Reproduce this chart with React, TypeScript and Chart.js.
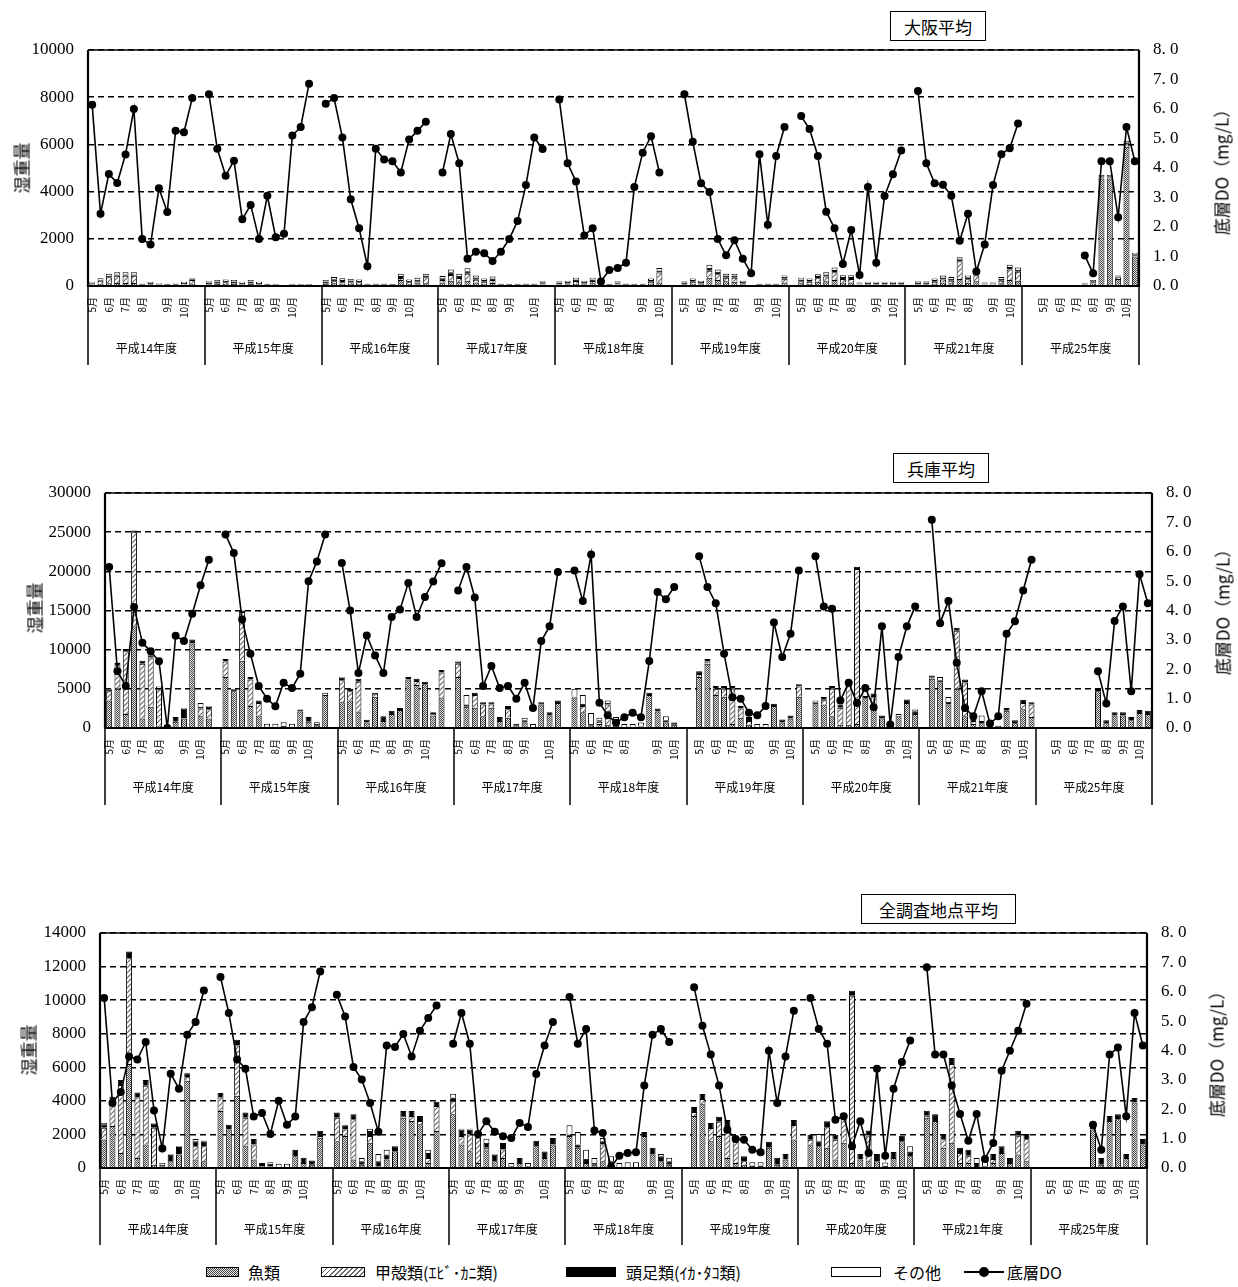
import React, { useEffect, useRef } from 'react';
import { Chart, registerables } from 'chart.js';

Chart.register(...registerables);

const years = ['平成14年度', '平成15年度', '平成16年度', '平成17年度', '平成18年度', '平成19年度', '平成20年度', '平成21年度', '平成25年度'];
const months = ['5月', '6月', '7月', '8月', '9月', '10月'];
// slot (within 14-slot year group) carrying each month label
const monthSlots = [
  [0, 2, 4, 6, 9, 11],
  [0, 2, 4, 6, 8, 10],
  [0, 2, 4, 6, 8, 10],
  [0, 2, 4, 6, 8, 11],
  [0, 2, 4, 6, 10, 12],
  [1, 3, 5, 7, 10, 12],
  [1, 3, 5, 7, 10, 12],
  [1, 3, 5, 7, 10, 12],
  [2, 4, 6, 8, 10, 12],
];
// first slot used by the survey data in each year group
const slotStart = [0, 0, 0, 0, 0, 1, 1, 1, 7];
const SLOTS = 14;

// ---------- 大阪平均 ----------
const osakaDO = [
  [6.14, 2.45, 3.80, 3.49, 4.46, 6.00, 1.59, 1.41, 3.31, 2.51, 5.26, 5.21, 6.37],
  [6.50, 4.65, 3.74, 4.25, 2.26, 2.75, 1.59, 3.06, 1.65, 1.77, 5.10, 5.39, 6.86],
  [6.18, 6.37, 5.03, 2.94, 1.96, 0.67, 4.65, 4.29, 4.23, 3.85, 4.97, 5.26, 5.57],
  [3.85, 5.15, 4.16, 0.92, 1.16, 1.11, 0.85, 1.16, 1.59, 2.20, 3.42, 5.03, 4.64],
  [6.32, 4.16, 3.54, 1.71, 1.96, 0.15, 0.54, 0.61, 0.79, 3.36, 4.52, 5.08, 3.85],
  [6.50, 4.89, 3.48, 3.19, 1.59, 1.04, 1.55, 0.92, 0.43, 4.47, 2.08, 4.41, 5.39],
  [5.76, 5.32, 4.41, 2.52, 1.96, 0.75, 1.90, 0.37, 3.36, 0.79, 3.05, 3.79, 4.59],
  [6.61, 4.16, 3.48, 3.43, 3.06, 1.53, 2.45, 0.49, 1.41, 3.42, 4.47, 4.67, 5.51],
  [1.03, 0.43, 4.23, 4.23, 2.33, 5.39, 4.23],
];
const osakaFish = [
  [60, 100, 120, 130, 130, 130, 30, 50, 40, 30, 30, 50, 90],
  [60, 80, 90, 80, 60, 80, 60, 30, 20, 0, 20, 20, 20],
  [80, 120, 100, 90, 90, 30, 30, 30, 30, 250, 90, 120, 120],
  [150, 220, 160, 220, 150, 100, 130, 30, 30, 30, 30, 30, 60],
  [60, 70, 100, 70, 120, 70, 30, 60, 30, 30, 30, 100, 150],
  [60, 100, 70, 350, 250, 200, 180, 70, 0, 30, 30, 30, 150],
  [120, 100, 180, 200, 250, 150, 150, 50, 60, 60, 60, 60, 60],
  [60, 60, 100, 150, 120, 300, 140, 200, 50, 50, 120, 250, 220],
  [60, 110, 4550, 4550, 300, 5900, 1250],
];
const osakaCrust = [
  [40, 120, 250, 300, 300, 300, 10, 30, 20, 10, 20, 40, 160],
  [30, 40, 50, 40, 20, 40, 20, 10, 10, 0, 10, 10, 10],
  [40, 80, 60, 60, 50, 10, 10, 10, 10, 90, 50, 80, 250],
  [100, 250, 180, 300, 120, 80, 120, 10, 10, 10, 10, 10, 60],
  [30, 40, 110, 40, 90, 40, 10, 40, 10, 10, 10, 80, 420],
  [30, 80, 40, 300, 250, 150, 170, 40, 0, 10, 10, 10, 160],
  [80, 80, 150, 200, 330, 150, 150, 20, 30, 30, 30, 30, 30],
  [30, 30, 80, 130, 100, 750, 150, 250, 20, 20, 100, 450, 380],
  [10, 30, 50, 50, 50, 100, 50],
];
const osakaCeph = [
  [40, 50, 60, 60, 60, 60, 30, 50, 30, 30, 30, 40, 40],
  [60, 70, 70, 70, 50, 70, 50, 30, 25, 0, 25, 25, 25],
  [70, 90, 90, 80, 70, 30, 30, 30, 30, 80, 70, 70, 70],
  [80, 110, 90, 110, 90, 70, 70, 30, 30, 30, 30, 30, 40],
  [60, 60, 70, 60, 70, 60, 30, 50, 30, 30, 30, 70, 90],
  [60, 70, 60, 120, 100, 90, 90, 60, 0, 30, 30, 30, 70],
  [80, 70, 90, 90, 100, 80, 80, 40, 50, 50, 50, 50, 50],
  [60, 60, 70, 80, 80, 80, 80, 70, 40, 40, 80, 100, 90],
  [40, 60, 50, 50, 50, 80, 50],
];
const osakaOther = [
  [40, 60, 90, 90, 90, 90, 30, 40, 30, 30, 30, 40, 40],
  [50, 60, 70, 60, 50, 60, 50, 30, 25, 0, 25, 25, 25],
  [60, 90, 80, 70, 70, 30, 30, 30, 30, 100, 70, 80, 80],
  [90, 120, 90, 120, 90, 70, 80, 30, 30, 30, 30, 30, 40],
  [50, 50, 70, 50, 70, 50, 30, 50, 30, 30, 30, 70, 100],
  [50, 70, 50, 130, 100, 80, 80, 50, 0, 30, 30, 30, 70],
  [70, 70, 80, 90, 100, 80, 80, 40, 40, 40, 40, 40, 40],
  [50, 50, 70, 90, 80, 90, 80, 80, 40, 40, 80, 100, 90],
  [30, 50, 50, 50, 50, 70, 50],
];

// ---------- 兵庫平均 ----------
const hyogoDO = [
  [5.48, 1.93, 1.43, 4.12, 2.90, 2.61, 2.27, 0.0, 3.14, 2.96, 3.89, 4.86, 5.73],
  [6.59, 5.96, 3.69, 2.53, 1.43, 1.00, 0.74, 1.54, 1.36, 1.85, 5.00, 5.67, 6.59],
  [5.62, 4.00, 1.87, 3.15, 2.47, 1.87, 3.78, 4.03, 4.94, 3.78, 4.46, 4.99, 5.61],
  [4.68, 5.48, 4.44, 1.43, 2.11, 1.36, 1.43, 1.00, 1.54, 0.68, 2.96, 3.46, 5.31],
  [5.36, 4.32, 5.91, 0.86, 0.43, 0.18, 0.37, 0.52, 0.37, 2.28, 4.63, 4.38, 4.80],
  [5.85, 4.80, 4.25, 2.53, 1.05, 1.00, 0.52, 0.43, 0.75, 3.59, 2.42, 3.21, 5.36],
  [5.85, 4.14, 4.06, 0.94, 1.54, 0.85, 1.36, 0.71, 3.46, 0.12, 2.42, 3.46, 4.14],
  [7.09, 3.57, 4.32, 2.22, 0.68, 0.40, 1.25, 0.15, 0.40, 3.21, 3.63, 4.68, 5.73],
  [1.93, 0.83, 3.64, 4.14, 1.25, 5.23, 4.25],
];
const hyogoFish = [
  [3500, 5000, 1800, 13100, 1200, 2700, 300, 0, 800, 1200, 10800, 1500, 1200],
  [6500, 4700, 8600, 2800, 1600, 0, 0, 100, 0, 2100, 800, 300, 4200],
  [3300, 3500, 2000, 700, 4000, 900, 1800, 2300, 6200, 5500, 5600, 1600, 3900],
  [6500, 2700, 2600, 1500, 2600, 900, 1300, 300, 700, 0, 3000, 1600, 3200],
  [3900, 2000, 300, 500, 400, 300, 0, 0, 200, 4200, 2100, 700, 400],
  [6500, 8200, 4200, 4000, 500, 1300, 400, 0, 0, 2800, 700, 1200, 4000],
  [3000, 3000, 1500, 400, 400, 500, 3800, 3000, 1200, 0, 1500, 3200, 1800],
  [6300, 5800, 3000, 5000, 1500, 500, 600, 0, 0, 2200, 600, 2400, 1400],
  [4700, 600, 1600, 1600, 1000, 1900, 1800],
];
const hyogoCrust = [
  [1200, 3000, 8000, 11900, 7000, 6300, 4600, 0, 0, 0, 0, 1000, 1200],
  [2000, 0, 6200, 3400, 1600, 0, 0, 0, 0, 0, 0, 0, 0],
  [2800, 1200, 3900, 0, 300, 0, 0, 0, 0, 500, 0, 200, 3200],
  [1700, 0, 1600, 1500, 400, 0, 1100, 0, 0, 0, 0, 0, 0],
  [0, 800, 0, 300, 2600, 0, 0, 0, 0, 0, 0, 0, 0],
  [400, 300, 800, 1000, 4500, 1200, 500, 0, 0, 0, 0, 0, 1300],
  [0, 600, 3500, 2200, 5500, 19800, 0, 1100, 0, 0, 0, 0, 0],
  [100, 0, 0, 7400, 4300, 400, 0, 0, 0, 0, 0, 800, 1600],
  [0, 0, 0, 0, 0, 0, 0],
];
const hyogoCeph = [
  [200, 300, 300, 200, 400, 300, 200, 0, 600, 1300, 500, 200, 300],
  [300, 250, 200, 300, 300, 150, 150, 200, 150, 250, 600, 250, 0],
  [300, 300, 400, 350, 200, 600, 400, 250, 300, 300, 300, 200, 300],
  [300, 300, 300, 300, 300, 500, 400, 250, 300, 100, 300, 400, 300],
  [100, 300, 200, 200, 200, 600, 50, 50, 100, 300, 400, 300, 300],
  [350, 300, 350, 350, 350, 300, 500, 50, 50, 300, 400, 400, 300],
  [300, 350, 350, 400, 300, 300, 300, 300, 400, 100, 0, 450, 350],
  [300, 300, 350, 400, 400, 400, 300, 100, 50, 350, 400, 400, 300],
  [400, 400, 400, 400, 400, 400, 400],
];
const hyogoOther = [
  [100, 50, 0, 0, 0, 0, 200, 0, 0, 50, 0, 500, 100],
  [0, 0, 0, 0, 0, 400, 400, 450, 400, 0, 0, 200, 300],
  [100, 0, 0, 0, 0, 0, 0, 0, 0, 0, 0, 0, 0],
  [100, 1200, 0, 0, 0, 0, 0, 0, 300, 400, 0, 0, 0],
  [1000, 1100, 1400, 300, 300, 500, 450, 450, 400, 0, 0, 500, 0],
  [0, 0, 0, 0, 0, 0, 0, 450, 450, 0, 0, 0, 0],
  [200, 0, 0, 0, 0, 0, 900, 0, 0, 200, 300, 0, 200],
  [0, 400, 600, 0, 0, 0, 700, 400, 250, 0, 0, 0, 0],
  [0, 0, 0, 0, 0, 0, 0],
];

// ---------- 全調査地点平均 ----------
const allDO = [
  [5.79, 2.21, 2.59, 3.80, 3.69, 4.29, 1.96, 0.66, 3.21, 2.70, 4.54, 4.97, 6.04],
  [6.50, 5.28, 3.69, 3.38, 1.75, 1.87, 1.16, 2.29, 1.47, 1.75, 4.97, 5.47, 6.69],
  [5.90, 5.16, 3.44, 3.01, 2.21, 1.23, 4.17, 4.12, 4.56, 3.80, 4.67, 5.11, 5.53],
  [4.23, 5.28, 4.23, 1.16, 1.59, 1.23, 1.08, 1.02, 1.53, 1.40, 3.20, 4.17, 4.97],
  [5.82, 4.23, 4.73, 1.28, 1.19, 0.03, 0.42, 0.51, 0.54, 2.81, 4.54, 4.73, 4.29],
  [6.15, 4.84, 3.86, 2.81, 1.30, 0.99, 0.96, 0.62, 0.54, 3.99, 2.21, 3.80, 5.35],
  [5.79, 4.73, 4.23, 1.64, 1.76, 0.74, 1.59, 0.51, 3.38, 0.42, 2.70, 3.61, 4.34],
  [6.83, 3.86, 3.86, 2.81, 1.84, 0.93, 1.84, 0.31, 0.85, 3.31, 3.99, 4.67, 5.59],
  [1.47, 0.62, 3.86, 4.10, 1.76, 5.28, 4.17],
];
const allFish = [
  [1700, 2500, 900, 6200, 600, 1400, 200, 100, 400, 800, 5200, 500, 400],
  [3400, 2300, 4300, 1300, 500, 100, 100, 0, 0, 700, 300, 200, 1800],
  [1600, 1900, 500, 200, 1500, 100, 500, 1000, 3000, 2800, 2600, 300, 2200],
  [3200, 1400, 1000, 300, 1100, 400, 600, 0, 300, 0, 1300, 600, 1400],
  [1900, 1200, 300, 200, 400, 100, 0, 0, 0, 1900, 800, 400, 200],
  [3100, 3800, 1600, 1900, 600, 300, 200, 0, 0, 1200, 200, 500, 1700],
  [1400, 1300, 1200, 500, 1500, 300, 500, 400, 400, 0, 600, 1600, 700],
  [3000, 2800, 1200, 1500, 300, 300, 0, 0, 300, 900, 300, 800, 400],
  [2300, 200, 2800, 2900, 600, 3900, 1400],
];
const allCrust = [
  [700, 1450, 4050, 6300, 3600, 3500, 2200, 0, 0, 0, 200, 800, 900],
  [800, 0, 3000, 1700, 900, 0, 0, 0, 0, 0, 0, 0, 100],
  [1400, 400, 2400, 0, 400, 0, 0, 0, 100, 300, 200, 300, 1500],
  [800, 500, 1000, 1500, 100, 0, 500, 0, 0, 0, 0, 0, 0],
  [0, 0, 0, 0, 1000, 0, 0, 0, 0, 0, 0, 0, 0],
  [230, 310, 780, 860, 1960, 1270, 200, 0, 0, 0, 0, 0, 860],
  [280, 0, 1230, 1180, 1470, 9960, 0, 1540, 0, 0, 0, 0, 0],
  [110, 0, 520, 4700, 600, 430, 0, 0, 230, 0, 0, 1120, 1320],
  [0, 0, 0, 0, 0, 0, 0],
];
const allCeph = [
  [200, 300, 300, 400, 300, 350, 250, 100, 400, 450, 250, 300, 300],
  [270, 280, 340, 310, 330, 200, 150, 50, 50, 390, 310, 250, 320],
  [310, 240, 300, 200, 300, 300, 300, 290, 300, 300, 300, 300, 250],
  [200, 400, 300, 300, 300, 400, 390, 100, 300, 100, 330, 390, 390],
  [100, 200, 250, 100, 200, 300, 50, 50, 50, 240, 400, 300, 200],
  [300, 300, 300, 300, 300, 300, 300, 150, 150, 370, 410, 330, 300],
  [300, 300, 350, 300, 300, 300, 330, 300, 430, 130, 350, 320, 290],
  [300, 400, 300, 350, 300, 350, 300, 100, 300, 390, 300, 300, 300],
  [380, 400, 300, 300, 230, 270, 330],
];
const allOther = [
  [80, 10, 10, 0, 0, 10, 30, 100, 30, 40, 20, 130, 20],
  [0, 0, 0, 0, 0, 0, 100, 200, 200, 0, 0, 0, 0],
  [0, 0, 0, 200, 140, 430, 290, 0, 0, 0, 0, 190, 0],
  [220, 40, 40, 20, 250, 30, 0, 200, 0, 200, 0, 0, 0],
  [540, 740, 540, 300, 190, 300, 250, 300, 300, 0, 0, 130, 210],
  [0, 0, 0, 0, 0, 0, 0, 200, 200, 0, 0, 0, 0],
  [0, 420, 0, 0, 0, 0, 0, 0, 0, 200, 0, 0, 300],
  [0, 0, 0, 0, 0, 0, 300, 550, 0, 0, 0, 0, 0],
  [0, 0, 0, 0, 0, 0, 0],
];

const seriesNames = ['魚類', '甲殻類(ｴﾋﾞ･ｶﾆ類)', '頭足類(ｲｶ･ﾀｺ類)', 'その他', '底層DO'];

function expand(rows: number[][]): (number | null)[] {
  const out: (number | null)[] = new Array(years.length * SLOTS).fill(null);
  rows.forEach((r, g) => r.forEach((v, k) => { out[g * SLOTS + slotStart[g] + k] = v; }));
  return out;
}

function buildLabels(): string[] {
  const out: string[] = new Array(years.length * SLOTS).fill('');
  monthSlots.forEach((s, g) => s.forEach((slot, m) => { out[g * SLOTS + slot] = months[m]; }));
  return out;
}

function fishPattern(ctx: CanvasRenderingContext2D) {
  const c = document.createElement('canvas');
  c.width = 4; c.height = 4;
  const g = c.getContext('2d')!;
  g.fillStyle = '#e2e2e2';
  g.fillRect(0, 0, 4, 4);
  g.fillStyle = '#4a4a4a';
  [[0, 0], [2, 0], [1, 1], [3, 1], [0, 2], [2, 2], [1, 3], [3, 3]].forEach(([x, y]) => g.fillRect(x, y, 1, 1));
  return ctx.createPattern(c, 'repeat')!;
}

function crustPattern(ctx: CanvasRenderingContext2D) {
  const c = document.createElement('canvas');
  c.width = 5; c.height = 5;
  const g = c.getContext('2d')!;
  g.fillStyle = '#ffffff';
  g.fillRect(0, 0, 5, 5);
  g.strokeStyle = '#6a6a6a';
  g.lineWidth = 1.2;
  g.beginPath();
  g.moveTo(-1, 6); g.lineTo(6, -1);
  g.moveTo(-1, 1); g.lineTo(1, -1);
  g.moveTo(4, 6); g.lineTo(6, 4);
  g.stroke();
  return ctx.createPattern(c, 'repeat')!;
}

const framePlugin = {
  id: 'frameGroups',
  afterDraw(chart: any, _args: any, opts: any) {
    const { ctx, chartArea: ca, scales } = chart;
    const x = scales.x;
    const w = x.getPixelForValue(1) - x.getPixelForValue(0);
    ctx.save();
    ctx.strokeStyle = '#000';
    ctx.lineWidth = 1.5;
    ctx.beginPath();
    ctx.moveTo(ca.left, ca.top);
    ctx.lineTo(ca.right, ca.top);
    ctx.stroke();
    ctx.lineWidth = 2.2;
    ctx.beginPath();
    ctx.moveTo(ca.left, ca.top);
    ctx.lineTo(ca.left, ca.bottom);
    ctx.lineTo(ca.right, ca.bottom);
    ctx.lineTo(ca.right, ca.top);
    ctx.stroke();
    ctx.lineWidth = 1.5;
    for (let g = 0; g <= years.length; g++) {
      const px = Math.round(x.getPixelForValue(g * SLOTS) - w / 2);
      ctx.beginPath();
      ctx.moveTo(px, ca.bottom);
      ctx.lineTo(px, ca.bottom + opts.lineLen);
      ctx.stroke();
    }
    ctx.fillStyle = '#000';
    ctx.font = '12px "Noto Sans CJK JP"';
    ctx.textAlign = 'center';
    ctx.textBaseline = 'middle';
    years.forEach((y, g) => {
      const a = x.getPixelForValue(g * SLOTS) - w / 2;
      const b = x.getPixelForValue((g + 1) * SLOTS) - w / 2;
      ctx.fillText(y, (a + b) / 2, ca.bottom + opts.labelY);
    });
    ctx.restore();
  },
};

type PanelCfg = {
  title: string;
  fish: number[][]; crust: number[][]; ceph: number[][]; other: number[][]; dO: number[][];
  yMax: number; yStep: number;
  top: number; height: number; padTop: number; leftW: number; rightW: number; xH: number;
  lineLen: number; labelY: number;
  box: { left: number; top: number; width: number; height: number };
  leftTitle: { x: number; y: number };
  rightTitle: { x: number; y: number };
};

const panels: PanelCfg[] = [
  {
    title: '大阪平均', fish: osakaFish, crust: osakaCrust, ceph: osakaCeph, other: osakaOther, dO: osakaDO,
    yMax: 10000, yStep: 2000,
    top: 0, height: 380, padTop: 50, leftW: 88, rightW: 99, xH: 94, lineLen: 79, labelY: 62,
    box: { left: 890, top: 11, width: 96, height: 30 },
    leftTitle: { x: 21, y: 168 }, rightTitle: { x: 1221, y: 168 },
  },
  {
    title: '兵庫平均', fish: hyogoFish, crust: hyogoCrust, ceph: hyogoCeph, other: hyogoOther, dO: hyogoDO,
    yMax: 30000, yStep: 5000,
    top: 440, height: 380, padTop: 53, leftW: 105, rightW: 86, xH: 92, lineLen: 77, labelY: 59,
    box: { left: 893, top: 453, width: 96, height: 30 },
    leftTitle: { x: 34, y: 608 }, rightTitle: { x: 1222, y: 608 },
  },
  {
    title: '全調査地点平均', fish: allFish, crust: allCrust, ceph: allCeph, other: allOther, dO: allDO,
    yMax: 14000, yStep: 2000,
    top: 880, height: 380, padTop: 53, leftW: 100, rightW: 91, xH: 92, lineLen: 77, labelY: 61,
    box: { left: 861, top: 894, width: 155, height: 30 },
    leftTitle: { x: 28, y: 1050 }, rightTitle: { x: 1216, y: 1050 },
  },
];

function Panel({ cfg }: { cfg: PanelCfg }) {
  const ref = useRef<HTMLCanvasElement | null>(null);
  useEffect(() => {
    const canvas = ref.current!;
    const ctx = canvas.getContext('2d')!;
    const fishP = fishPattern(ctx);
    const crustP = crustPattern(ctx);
    const barBase = { type: 'bar' as const, borderColor: '#000', borderWidth: 1, barPercentage: 0.72, categoryPercentage: 1.0, yAxisID: 'y', order: 1, stack: 's' };
    const chart = new Chart(ctx, {
      type: 'bar',
      data: {
        labels: buildLabels(),
        datasets: [
          { ...barBase, label: seriesNames[0], data: expand(cfg.fish), backgroundColor: fishP },
          { ...barBase, label: seriesNames[1], data: expand(cfg.crust), backgroundColor: crustP },
          { ...barBase, label: seriesNames[2], data: expand(cfg.ceph), backgroundColor: '#000' },
          { ...barBase, label: seriesNames[3], data: expand(cfg.other), backgroundColor: '#fff' },
          {
            type: 'line', label: seriesNames[4], data: expand(cfg.dO), yAxisID: 'y1', order: 0,
            borderColor: '#000', borderWidth: 1.6, backgroundColor: '#000',
            pointRadius: 4, pointBackgroundColor: '#000', pointBorderColor: '#000', pointBorderWidth: 0,
            spanGaps: false, tension: 0,
          } as any,
        ],
      },
      options: {
        responsive: false,
        animation: false,
        devicePixelRatio: 1,
        layout: { padding: { top: cfg.padTop, left: 0, right: 0, bottom: 0 } },
        plugins: {
          legend: { display: false },
          tooltip: { enabled: false },
          frameGroups: { lineLen: cfg.lineLen, labelY: cfg.labelY },
        } as any,
        scales: {
          x: {
            type: 'category',
            stacked: true,
            offset: true,
            grid: { display: false },
            border: { display: false },
            ticks: {
              autoSkip: false, maxRotation: 90, minRotation: 90, padding: 3, color: '#000',
              font: { family: '"Noto Sans CJK JP"', size: 10 },
            },
            afterFit: (s: any) => { s.height = cfg.xH; },
          },
          y: {
            type: 'linear',
            position: 'left',
            stacked: true,
            min: 0, max: cfg.yMax,
            grid: { color: '#000', lineWidth: 1.4, drawTicks: false },
            border: { display: false, dash: [6, 4] },
            ticks: {
              stepSize: cfg.yStep, padding: 14, color: '#000',
              font: { family: '"Liberation Serif"', size: 17 },
              callback: (v: any) => String(v),
            },
            afterFit: (s: any) => { s.width = cfg.leftW; },
          },
          y1: {
            type: 'linear',
            position: 'right',
            stacked: false,
            min: 0, max: 8,
            grid: { display: false, drawTicks: false },
            border: { display: false },
            ticks: {
              stepSize: 1, padding: 14, color: '#000',
              font: { family: '"Liberation Serif"', size: 17 },
              callback: (v: any) => Number(v).toFixed(1).replace('.', '. '),
            },
            afterFit: (s: any) => { s.width = cfg.rightW; },
          },
        },
      } as any,
      plugins: [framePlugin],
    });
    return () => chart.destroy();
  }, [cfg]);
  const rot = (x: number, y: number): React.CSSProperties => ({
    position: 'absolute', left: x, top: y, transform: 'translate(-50%, -50%) rotate(-90deg)',
    whiteSpace: 'nowrap', fontFamily: '"Noto Sans CJK JP"', fontSize: 17, color: '#000', lineHeight: 1,
  });
  return (
    <>
      <canvas ref={ref} width={1238} height={cfg.height}
        style={{ position: 'absolute', left: 0, top: cfg.top, width: 1238, height: cfg.height, display: 'block' }} />
      <div style={{
        position: 'absolute', left: cfg.box.left, top: cfg.box.top, width: cfg.box.width, height: cfg.box.height,
        boxSizing: 'border-box', border: '1.5px solid #000', background: '#fff', display: 'flex',
        alignItems: 'center', justifyContent: 'center', fontFamily: '"Noto Sans CJK JP"', fontSize: 17, color: '#000',
      }}>{cfg.title}</div>
      <div style={rot(cfg.leftTitle.x, cfg.leftTitle.y)}>湿重量</div>
      <div style={rot(cfg.rightTitle.x, cfg.rightTitle.y)}>底層DO（mg/L）</div>
    </>
  );
}

const fishCss = 'repeating-conic-gradient(#4a4a4a 0% 25%, #e2e2e2 0% 50%) 0 0 / 2px 2px';
const crustCss = 'repeating-linear-gradient(-45deg, #fff 0px, #fff 2.4px, #6a6a6a 2.4px, #6a6a6a 3.6px)';

function Legend() {
  const font: React.CSSProperties = { position: 'absolute', top: 1262, fontFamily: '"Noto Sans CJK JP"', fontSize: 16, lineHeight: '20px', color: '#000', whiteSpace: 'nowrap' };
  const sw = (left: number, width: number, bg: string): React.CSSProperties => ({
    position: 'absolute', left, top: 1267, width, height: 10, boxSizing: 'border-box', border: '1px solid #000', background: bg,
  });
  return (
    <>
      <div style={sw(206, 33, fishCss)} />
      <div style={{ ...font, left: 248 }}>{seriesNames[0]}</div>
      <div style={sw(321, 44, crustCss)} />
      <div style={{ ...font, left: 375 }}>{seriesNames[1]}</div>
      <div style={sw(566, 50, '#000')} />
      <div style={{ ...font, left: 626 }}>{seriesNames[2]}</div>
      <div style={sw(831, 50, '#fff')} />
      <div style={{ ...font, left: 893 }}>{seriesNames[3]}</div>
      <div style={{ position: 'absolute', left: 964, top: 1271, width: 40, height: 2, background: '#000' }} />
      <div style={{ position: 'absolute', left: 979, top: 1267, width: 10, height: 10, borderRadius: 5, background: '#000' }} />
      <div style={{ ...font, left: 1007 }}>{seriesNames[4]}</div>
    </>
  );
}

export default function App() {
  return (
    <div style={{ position: 'absolute', left: 0, top: 0, width: 1238, height: 1287, background: '#fff', overflow: 'hidden' }}>
      {panels.map((p, i) => <Panel key={i} cfg={p} />)}
      <Legend />
    </div>
  );
}
